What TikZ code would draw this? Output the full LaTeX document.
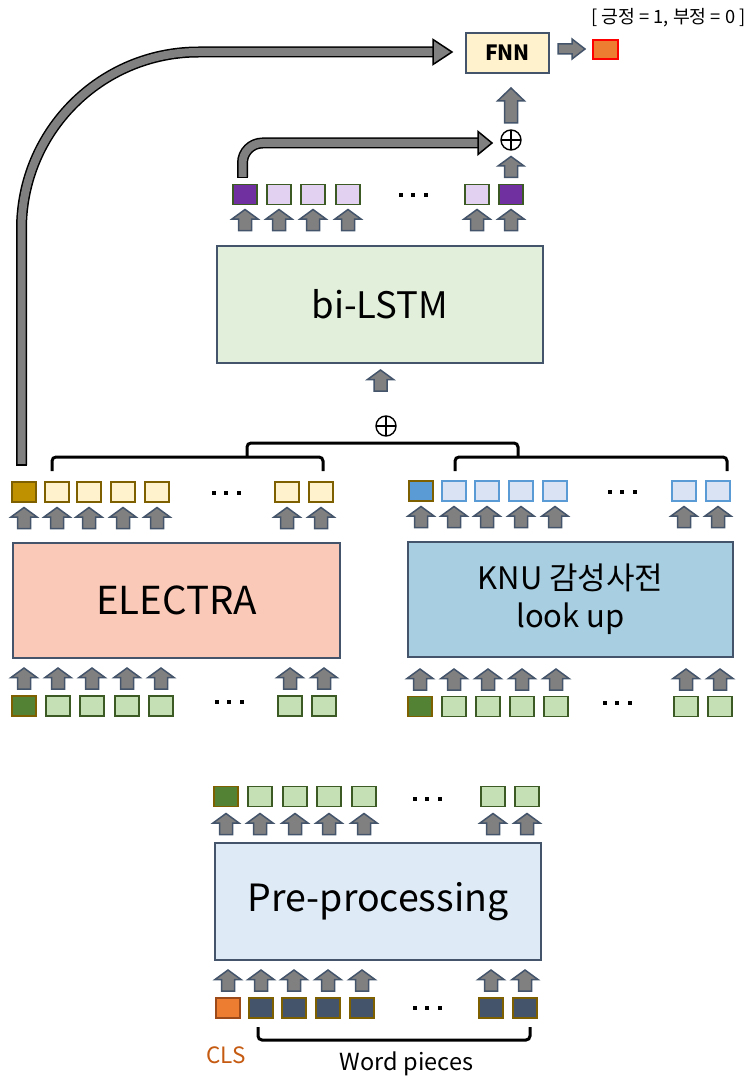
\documentclass[tikz,border=0pt]{standalone}
\usepackage{fontspec}
\setmainfont{Noto Sans CJK KR}
\usetikzlibrary{calc}

\definecolor{boxline}{HTML}{44546A}
\definecolor{arrgray}{HTML}{808080}
\definecolor{bilstmfill}{HTML}{E2EFDA}
\definecolor{electrafill}{HTML}{FBC9B8}
\definecolor{knufill}{HTML}{A8CFE1}
\definecolor{prefill}{HTML}{DEEBF7}
\definecolor{fnnfill}{HTML}{FFF2CC}
\definecolor{goldline}{HTML}{7F6000}
\definecolor{goldfill}{HTML}{BF9000}
\definecolor{paleyellow}{HTML}{FFF2CC}
\definecolor{greenline}{HTML}{3B5A24}
\definecolor{greendark}{HTML}{548235}
\definecolor{greenpale}{HTML}{C5E0B4}
\definecolor{bluemid}{HTML}{5B9BD5}
\definecolor{bluepale}{HTML}{DAE3F3}
\definecolor{purpledark}{HTML}{7030A0}
\definecolor{purplepale}{HTML}{E2D1F1}
\definecolor{slate}{HTML}{44546A}
\definecolor{clsorange}{HTML}{ED7D31}
\definecolor{clsline}{HTML}{9C4A1A}
\definecolor{clstext}{HTML}{C55A11}

\tikzset{
  tok/.style={draw, line width=1.6, minimum width=24, minimum height=20, inner sep=0},
  tokpurple/.style={fill=purpledark, draw=greenline},
  tokpurplepale/.style={fill=purplepale, draw=greenline},
  tokgold/.style={fill=goldfill, draw=goldline},
  tokyellow/.style={fill=paleyellow, draw=goldline},
  tokblue/.style={fill=bluemid, draw=goldline},
  tokbluepale/.style={fill=bluepale, draw=bluemid},
  tokgreen/.style={fill=greendark, draw=goldline},
  tokgreenpale/.style={fill=greenpale, draw=greenline},
  tokcls/.style={fill=clsorange, draw=clsline},
  tokslate/.style={fill=slate, draw=goldline},
  bigbox/.style={draw=boxline, line width=1.5, inner sep=0, align=center,
    font=\fontsize{37}{40}\selectfont},
  arrowbox/.style={fill=arrgray, draw=slate, line width=1.5, line join=miter},
  thickarrow/.style={draw=black, line width=1.5, double=arrgray, double distance=8},
  headshape/.style={fill=arrgray, draw=black, line width=1.5, line join=miter},
  bracketline/.style={draw=black, line width=3, rounded corners=4},
  uparr/.pic={\draw[arrowbox] (0,-10.5) -- (13,-1) -- (6.5,-1) -- (6.5,10.5)
      -- (-6.5,10.5) -- (-6.5,-1) -- (-13,-1) -- cycle;},
  dotrow/.pic={\foreach \d in {-12.5,0,12.5} \fill (\d-2,-2) rectangle (\d+2,2);},
  oplus/.style={circle, draw, line width=1.4, minimum size=20, inner sep=0,
    path picture={\draw[line width=1.4] (path picture bounding box.north) -- (path picture bounding box.south)
      (path picture bounding box.west) -- (path picture bounding box.east);}},
}

\begin{document}
\begin{tikzpicture}[x=1pt,y=-1pt]
\useasboundingbox (0,0) rectangle (753,1078);

% ---------- main blocks ----------
\node[bigbox, fill=bilstmfill, minimum width=326, minimum height=117,
      font=\fontsize{36.5}{40}\selectfont] (bilstm) at (380,304.5) {bi-LSTM};
\node[bigbox, fill=electrafill, minimum width=327, minimum height=115,
      font=\fontsize{38.5}{42}\selectfont] (electra) at (176.5,600.5) {ELECTRA};
\node[bigbox, fill=knufill, minimum width=325, minimum height=115,
      font=\fontsize{31}{38}\selectfont] (knu) at (570.5,599.5) {KNU 감성사전\\look up};
\node[bigbox, fill=prefill, minimum width=326, minimum height=117,
      font=\fontsize{37.5}{40}\selectfont] (pre) at (378,901.5) {Pre-processing};

% ---------- FNN and output ----------
\node[draw=boxline, line width=1.5, fill=fnnfill, minimum width=83, minimum height=40,
      inner sep=0, font=\bfseries\fontsize{21}{24}\selectfont] (fnn) at (507.5,53) {FNN};
\node[fill=clsorange, draw=red, line width=1.5, minimum width=25, minimum height=19, inner sep=0] (out) at (605.5,49.5) {};
\node[font=\fontsize{18.3}{20}\selectfont] (legend) at (668.5,18) {[ 긍정 = 1, 부정 = 0 ]};
\draw[arrowbox] (558,44) -- (572,44) -- (572,39) -- (585,49) coordinate (outtip)
  -- (572,59) -- (572,54) -- (558,54) -- cycle;

% ---------- bi-LSTM outputs ----------
\foreach \x/\s [count=\i] in {245/tokpurple,279/tokpurplepale,313/tokpurplepale,348/tokpurplepale,477/tokpurplepale,511/tokpurple} {
  \node[tok,\s] (h\i) at (\x,194.5) {};
  \pic at (\x,220) {uparr};
}
\pic at (413,195) {dotrow};

% concatenation of the two final states
\node[oplus] (cat2) at (511,140) {};
\pic at (511,167) {uparr};
\draw[arrowbox] (511,88) -- (524.5,101) -- (517.5,101) -- (517.5,123) -- (504.5,123)
  -- (504.5,101) -- (497.5,101) -- cycle;

\draw[thickarrow, rounded corners=20] (242.5,177) |- (478,143) coordinate (skipend);
\draw[line width=1.5] (237,177.5) -- ++(11,0);
\draw[headshape] (478,131.5) -- (492,143) -- (478,154.5) -- cycle;

% arrow into bi-LSTM
\pic at (380.5,380.5) {uparr};
\node[oplus] (cat1) at (386,426) {};

% ---------- brackets gathering the two feature rows ----------
\draw[bracketline] (52,471) -- (52,457) -- (323,457) -- (323,471);
\draw[bracketline] (455,471) -- (455,457) -- (727,457) -- (727,471);
\draw[bracketline] (247,457) -- (247,443) -- (518,443) -- (518,457);

% ---------- ELECTRA outputs ----------
\foreach \x/\s [count=\i] in {24/tokgold,57/tokyellow,89/tokyellow,123/tokyellow,157/tokyellow,287/tokyellow,321/tokyellow} {
  \node[tok,\s] (e\i) at (\x,492) {};
  \pic at (\x,518) {uparr};
}
\pic at (226,493) {dotrow};

% CLS vector of ELECTRA straight to the FNN
\draw[thickarrow] (21.5,465) -- (21.5,229) arc[start angle=180, end angle=270, radius=177] -- (434,52) coordinate (clsend);
\draw[line width=1.5] (16,465) -- (27,465);
\draw[headshape] (433,39.5) -- (452,52) -- (433,64.5) -- cycle;

% ---------- KNU outputs ----------
\foreach \x/\s [count=\i] in {421/tokblue,454/tokbluepale,487/tokbluepale,521/tokbluepale,555/tokbluepale,684/tokbluepale,718/tokbluepale} {
  \node[tok,\s] (k\i) at (\x,491) {};
  \pic at (\x,517) {uparr};
}
\pic at (622,492) {dotrow};

% ---------- ELECTRA inputs ----------
\foreach \x/\s [count=\i] in {24/tokgreen,58/tokgreenpale,92/tokgreenpale,127/tokgreenpale,161/tokgreenpale,290/tokgreenpale,324/tokgreenpale} {
  \node[tok,\s] (ei\i) at (\x,706) {};
  \pic at (\x,678.5) {uparr};
}
\pic at (229,702) {dotrow};

% ---------- KNU inputs ----------
\foreach \x/\s [count=\i] in {420/tokgreen,454/tokgreenpale,488/tokgreenpale,522/tokgreenpale,556/tokgreenpale,686/tokgreenpale,720/tokgreenpale} {
  \node[tok,\s] (ki\i) at (\x,706.5) {};
  \pic at (\x,679.5) {uparr};
}
\pic at (617,703) {dotrow};

% ---------- Pre-processing outputs ----------
\foreach \x/\s [count=\i] in {226/tokgreen,260/tokgreenpale,295/tokgreenpale,329/tokgreenpale,364/tokgreenpale,493/tokgreenpale,527/tokgreenpale} {
  \node[tok,\s] (p\i) at (\x,796.5) {};
  \pic at (\x,824) {uparr};
}
\pic at (427,799) {dotrow};

% ---------- raw inputs ----------
\foreach \x/\s [count=\i] in {228/tokcls,261/tokslate,294/tokslate,328/tokslate,362/tokslate,491/tokslate,525/tokslate} {
  \node[tok,\s] (r\i) at (\x,1008) {};
  \pic at (\x,980.5) {uparr};
}
\pic at (427,1008) {dotrow};

\draw[bracketline] (258,1027) -- (258,1040) -- (530,1040) -- (530,1027);
\node[text=clstext, font=\fontsize{22.5}{25}\selectfont] (cls) at (226,1055) {CLS};
\node[font=\fontsize{23.5}{26}\selectfont] (pieces) at (406.5,1064) {Word pieces};
\end{tikzpicture}
\end{document}
